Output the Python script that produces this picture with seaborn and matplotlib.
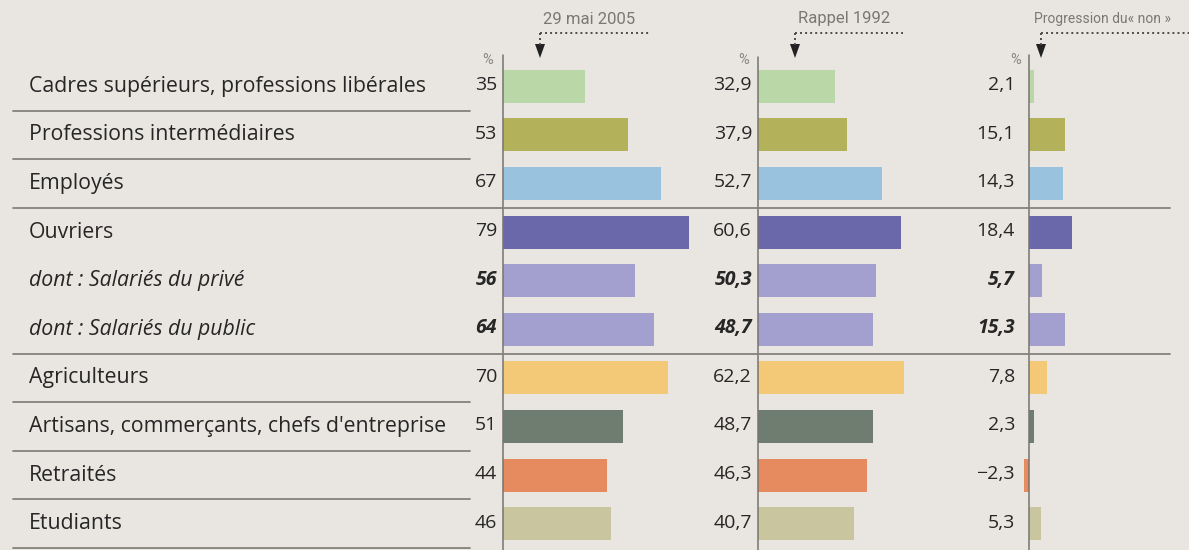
import matplotlib
matplotlib.use("Agg")
import matplotlib.pyplot as plt
import seaborn as sns
import pandas as pd
from matplotlib import transforms
from matplotlib.lines import Line2D
from matplotlib.patches import Polygon

# ---------------- data ----------------
categories = [
    "Cadres supérieurs, professions libérales",
    "Professions intermédiaires",
    "Employés",
    "Ouvriers",
    "dont : Salariés du privé",
    "dont : Salariés du public",
    "Agriculteurs",
    "Artisans, commerçants, chefs d'entreprise",
    "Retraités",
    "Etudiants",
]
vote_2005 = [35, 53, 67, 79, 56, 64, 70, 51, 44, 46]
vote_1992 = [32.9, 37.9, 52.7, 60.6, 50.3, 48.7, 62.2, 48.7, 46.3, 40.7]
progression = [2.1, 15.1, 14.3, 18.4, 5.7, 15.3, 7.8, 2.3, -2.3, 5.3]
headers = ["29 mai 2005", "Rappel 1992", "Progression du« non »"]
italic_rows = [4, 5]
colors = ["#b9d7a7", "#b4b15b", "#98c2de", "#6b67ab", "#a3a0cf",
          "#a3a0cf", "#f3c977", "#6f7d71", "#e58b5f", "#c9c69f"]

# ---------------- style ----------------
BG = "#e9e6e1"
TXT = "#262626"
LINE = "#85817c"
sns.set_theme(style="white")
plt.rcParams["font.family"] = ["Roboto", "DejaVu Sans"]
BODY_FONT = ["Open Sans", "DejaVu Sans"]

W, H = 1189, 550
fig = plt.figure(figsize=(W / 100, H / 100), dpi=100)
fig.patch.set_facecolor(BG)

SCALE = 2.354          # pixels per percentage point
TOP, ROWH = 62, 48.6
n = len(categories)

df = pd.DataFrame({"cat": categories, "v2005": vote_2005,
                   "v1992": vote_1992, "prog": progression})


def fx(px):
    return px / W


def fy(py):
    return 1 - py / H


def add_col(col, axis_px, xmin, xmax, val_off, pct_off, line_top, decimals):
    left = axis_px + xmin * SCALE
    width = (xmax - xmin) * SCALE
    ax = fig.add_axes([fx(left), fy(TOP + n * ROWH), width / W, n * ROWH / H])
    sns.barplot(data=df, x=col, y="cat", hue="cat", palette=colors,
                legend=False, orient="h", width=0.68, saturation=1,
                linewidth=0, ax=ax)
    ax.set_xlim(xmin, xmax)
    ax.set_ylim(n - 0.5, -0.5)
    ax.set_axis_off()
    span = n * ROWH
    ax.axvline(0, ymin=-(H - TOP - span) / span, ymax=1 + (TOP - line_top) / span,
               color="#77746f", lw=1.1, clip_on=False, zorder=5)
    for i, v in enumerate(df[col]):
        s = f"{v:.{decimals}f}".replace(".", ",").replace("-", "\u2212")
        it = i in italic_rows
        ax.annotate(s, xy=(0, i), xytext=(val_off, 1), textcoords="offset pixels",
                    ha="right", va="center", fontsize=14, color=TXT,
                    family=BODY_FONT,
                    fontweight="bold" if it else "normal",
                    style="italic" if it else "normal")
    ax.annotate("%", xy=(0, -0.5), xytext=(pct_off, 2), textcoords="offset pixels",
                ha="right", va="center", fontsize=10.5, color="#8a8782")
    return ax


ax1 = add_col("v2005", 503, 0, 100, -6, -10, 55, 0)
ax2 = add_col("v1992", 758, 0, 100, -6, -9, 57, 1)
ax3 = add_col("prog", 1029, -5, 70, -14, -8, 55, 1)

# category labels and separators
blend = transforms.blended_transform_factory(fig.transFigure, ax1.transData)
for i, c in enumerate(categories):
    it = i in italic_rows
    fig.text(fx(29), i, c, transform=blend, ha="left", va="center",
             fontsize=15.3, color=TXT, family=BODY_FONT,
             style="italic" if it else "normal")

full_rows = [2, 5]
skip_rows = [3, 4]
for i in range(n):
    if i in skip_rows:
        continue
    x_end = 1170 if i in full_rows else 470
    fig.add_artist(Line2D([fx(13), fx(x_end)], [i + 0.5, i + 0.5],
                          transform=blend, color=LINE, lw=1.3))

# headers with dotted leaders and arrows
head_pos = [(543, 540, 650, 12), (798, 795, 903, 12), (1034, 1041, 1189, 10)]
for text, (tx, ax_x, x_end, fs) in zip(headers, head_pos):
    fig.text(fx(tx), fy(19), text, ha="left", va="center", fontsize=fs,
             color="#7b7873")
    fig.add_artist(Line2D([fx(ax_x), fx(x_end)], [fy(33), fy(33)],
                          color="#4a4a4a", lw=1.4, ls=(0, (1, 1.6))))
    fig.add_artist(Line2D([fx(ax_x), fx(ax_x)], [fy(33), fy(45)],
                          color="#4a4a4a", lw=1.4, ls=(0, (1, 1.6))))
    fig.add_artist(Polygon([[fx(ax_x - 5), fy(44)], [fx(ax_x + 5), fy(44)],
                            [fx(ax_x), fy(58)]], closed=True,
                           facecolor="#222222", edgecolor="none"))

fig.savefig("out.png", dpi=100, facecolor=BG)
